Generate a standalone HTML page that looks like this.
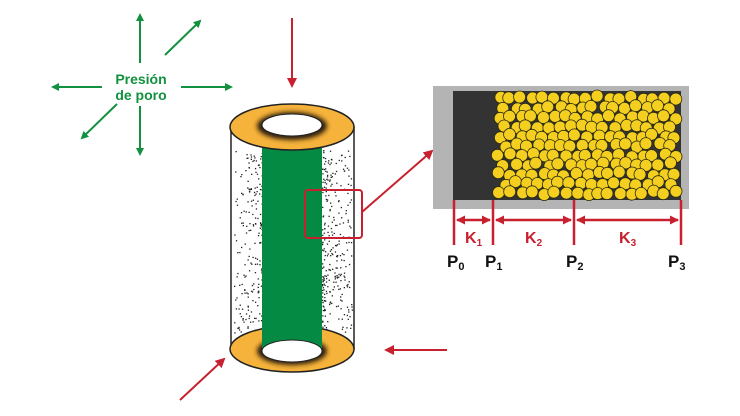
<!DOCTYPE html>
<html><head><meta charset="utf-8"><style>html,body{margin:0;padding:0;background:#fff}svg{display:block}</style></head>
<body>
<svg id="s" width="740" height="416" viewBox="0 0 740 416" xmlns="http://www.w3.org/2000/svg">
<defs>
<marker id="gh" markerWidth="8" markerHeight="8" refX="6" refY="4" orient="auto" markerUnits="userSpaceOnUse"><path d="M0,0 L8,4 L0,8 Z" fill="#12913f"/></marker>
<marker id="rh" markerWidth="10" markerHeight="10" refX="8" refY="5" orient="auto" markerUnits="userSpaceOnUse"><path d="M0,0 L10,5 L0,10 Z" fill="#c8202e"/></marker>
<marker id="rs" markerWidth="9" markerHeight="9" refX="8" refY="4.5" orient="auto-start-reverse" markerUnits="userSpaceOnUse"><path d="M0,0 L9,4.5 L0,9 Z" fill="#c8202e"/></marker>
<filter id="bl" x="-30%" y="-50%" width="160%" height="200%"><feGaussianBlur stdDeviation="2.5"/></filter>
</defs>
<g stroke="#12913f" stroke-width="2" marker-end="url(#gh)">
<line x1="140" y1="63" x2="140" y2="15"/><line x1="140" y1="106" x2="140" y2="154"/>
<line x1="102" y1="87" x2="53" y2="87"/><line x1="181" y1="87" x2="231" y2="87"/>
<line x1="165" y1="55" x2="200" y2="21"/><line x1="117" y1="104" x2="82" y2="138"/>
</g>
<g font-family="Liberation Sans, sans-serif" font-weight="bold" font-size="14" fill="#12913f" text-anchor="middle">
<text x="141" y="84">Presión</text><text x="141" y="100">de poro</text></g>
<g stroke="#c8202e" stroke-width="2" marker-end="url(#rh)">
<line x1="292" y1="18" x2="292" y2="86"/><line x1="447" y1="350" x2="386" y2="350"/>
<line x1="180" y1="400" x2="224" y2="359"/><line x1="362" y1="212" x2="432" y2="151"/>
</g>
<path d="M231,349 L231,127 L354,127 L354,349 Z" fill="#fff" stroke="#222" stroke-width="1.5"/>
<g id="dots" fill="#222"></g>
<ellipse cx="292" cy="349" rx="62" ry="23" fill="#f6b33b" stroke="#222" stroke-width="1.5"/>
<ellipse cx="292" cy="351" rx="35" ry="14" fill="#2a1a08" filter="url(#bl)"/>
<rect x="262" y="140" width="60" height="208" fill="#058a43"/>
<ellipse cx="292" cy="351" rx="30" ry="11" fill="#fff" stroke="#222"/>
<ellipse cx="292" cy="127" rx="62" ry="23" fill="#f6b33b" stroke="#222" stroke-width="1.5"/>
<ellipse cx="292" cy="126" rx="35" ry="14" fill="#2a1a08" filter="url(#bl)"/>
<ellipse cx="292" cy="125" rx="30" ry="11" fill="#fff" stroke="#222"/>
<rect x="305" y="190" width="57" height="48" rx="3" fill="none" stroke="#c8202e" stroke-width="2"/>
<rect x="433" y="86" width="256" height="123" fill="#b4b4b4"/>
<rect x="453" y="91" width="228" height="109" fill="#333"/>
<g id="balls" fill="#f4cf1f" stroke="#2a2a10" stroke-width="0.8"></g>
<g stroke="#c8202e" stroke-width="2.5">
<line x1="454" y1="200" x2="454" y2="245"/><line x1="493" y1="200" x2="493" y2="245"/>
<line x1="574" y1="200" x2="574" y2="245"/><line x1="681" y1="200" x2="681" y2="245"/>
</g>
<g stroke="#c8202e" stroke-width="2.5" marker-start="url(#rs)" marker-end="url(#rs)">
<line x1="457" y1="220" x2="490" y2="220"/><line x1="496" y1="220" x2="571" y2="220"/><line x1="577" y1="220" x2="678" y2="220"/>
</g>
<g font-family="Liberation Sans, sans-serif" font-weight="bold" fill="#c8202e" font-size="16">
<text x="465" y="243">K<tspan font-size="10" dy="3">1</tspan></text>
<text x="525" y="243">K<tspan font-size="10" dy="3">2</tspan></text>
<text x="619" y="243">K<tspan font-size="10" dy="3">3</tspan></text>
</g>
<g font-family="Liberation Sans, sans-serif" font-weight="bold" fill="#111" font-size="17">
<text x="447" y="267">P<tspan font-size="11" dy="3">0</tspan></text>
<text x="485" y="267">P<tspan font-size="11" dy="3">1</tspan></text>
<text x="566" y="267">P<tspan font-size="11" dy="3">2</tspan></text>
<text x="668" y="267">P<tspan font-size="11" dy="3">3</tspan></text>
</g>
</svg>
<script>
var seed=7;function r(){seed=(seed*16807)%2147483647;return seed/2147483647;}
var ns="http://www.w3.org/2000/svg";
var d=document.getElementById("dots");
for(var i=0;i<500;i++){var left=r()<0.45;var x,y=150+r()*185;
 if(left){x=262-Math.pow(r(),1.6)*28;}else{x=322+Math.pow(r(),1.6)*30;}
 var c=document.createElementNS(ns,"rect");c.setAttribute("x",x.toFixed(1));c.setAttribute("y",y.toFixed(1));c.setAttribute("width",1.3);c.setAttribute("height",1.3);d.appendChild(c);}
var b=document.getElementById("balls");
var row=0;
for(var y=98;y<=195;y+=9.5){var off=(row%2)*5.5;row++;
 for(var x=499+off;x<=676;x+=11){
  var cx=x+(r()-0.5)*4,cy=y+(r()-0.5)*4;
  if(cx>676)cx=676;if(cy>195)cy=195;
  var c=document.createElementNS(ns,"circle");c.setAttribute("cx",cx.toFixed(1));c.setAttribute("cy",cy.toFixed(1));c.setAttribute("r",6);b.appendChild(c);}}
</script>
</body></html>
